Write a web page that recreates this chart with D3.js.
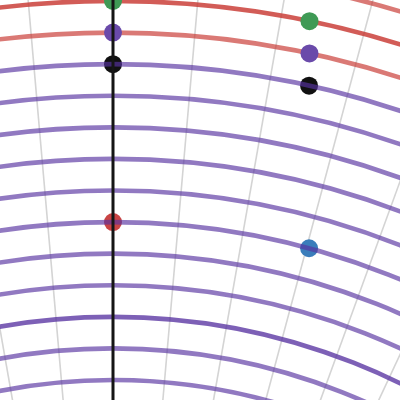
<!DOCTYPE html>
<html>
<head>
<meta charset="utf-8">
<script src="https://cdn.jsdelivr.net/npm/d3@7"></script>
<style>
html,body{margin:0;padding:0;background:#fff;}
svg{display:block;}
</style>
</head>
<body>
<svg id="chart" width="400" height="400"></svg>
<script>
// ---- data ----
const gridAngles = [-20, -15, -10, -5, 0, 5, 10, 15, 20, 25, 30, 35];
const redLineValues = [13, 12, 12, 11];
const purpleLineValues = [10, 9, 8, 7, 6, 5, 4, 3, 2, 2, 1, 0];
const pointAngles = [0, 11.7, 0, 12.1, 0, 12.5, 0, 15.2];
const pointValues = [12, 12, 11, 11, 10, 10, 5, 5];
const pointColors = ["#3f9a55", "#3f9a55", "#6a4aaa", "#6a4aaa", "#111111", "#111111", "#c94444", "#3a7dbb"];
const axisAngle = [0];

// ---- layout ----
const cx = 113, cy = 970;
const svg = d3.select("#chart");
const g = svg.append("g").attr("transform", `translate(${cx},${cy})`);

const rScale = d3.scaleLinear().domain([0, 12]).range([590, 969]);
const aScale = d3.scaleLinear().domain([0, 360]).range([0, 2 * Math.PI]);
const rMax = 1200;

const radial = d3.lineRadial().angle(d => aScale(d[0])).radius(d => d[1]);

// collapse overlapping rings: value -> count
function rings(values) {
  return Array.from(d3.rollup(values, v => v.length, d => d), ([value, count]) => ({value, count}));
}

// grid radial lines
g.append("g").selectAll("path").data(gridAngles.filter(a => a !== 0)).join("path")
  .attr("d", a => radial([[a, 0], [a, rMax]]))
  .attr("stroke", "#d4d4d4").attr("stroke-width", 1.6).attr("fill", "none");

// red rings
g.append("g").selectAll("circle").data(rings(redLineValues)).join("circle")
  .attr("r", d => rScale(d.value)).attr("fill", "none")
  .attr("stroke", "#c7332d").attr("stroke-opacity", d => d.count > 1 ? 0.8 : 0.66).attr("stroke-width", 4.6);

// points
g.append("g").selectAll("circle").data(pointValues).join("circle")
  .attr("cx", (d, i) => rScale(d) * Math.sin(aScale(pointAngles[i])))
  .attr("cy", (d, i) => -rScale(d) * Math.cos(aScale(pointAngles[i])))
  .attr("r", 9)
  .attr("fill", (d, i) => pointColors[i]);

// purple rings
g.append("g").selectAll("circle").data(rings(purpleLineValues)).join("circle")
  .attr("r", d => rScale(d.value)).attr("fill", "none")
  .attr("stroke", "#5833a1").attr("stroke-opacity", d => d.count > 1 ? 0.78 : 0.66).attr("stroke-width", 4.6);

// black axis line
g.append("g").selectAll("path").data(axisAngle).join("path")
  .attr("d", a => radial([[a, 0], [a, rMax]]))
  .attr("stroke", "#151515").attr("stroke-width", 3).attr("fill", "none");
</script>
</body>
</html>
